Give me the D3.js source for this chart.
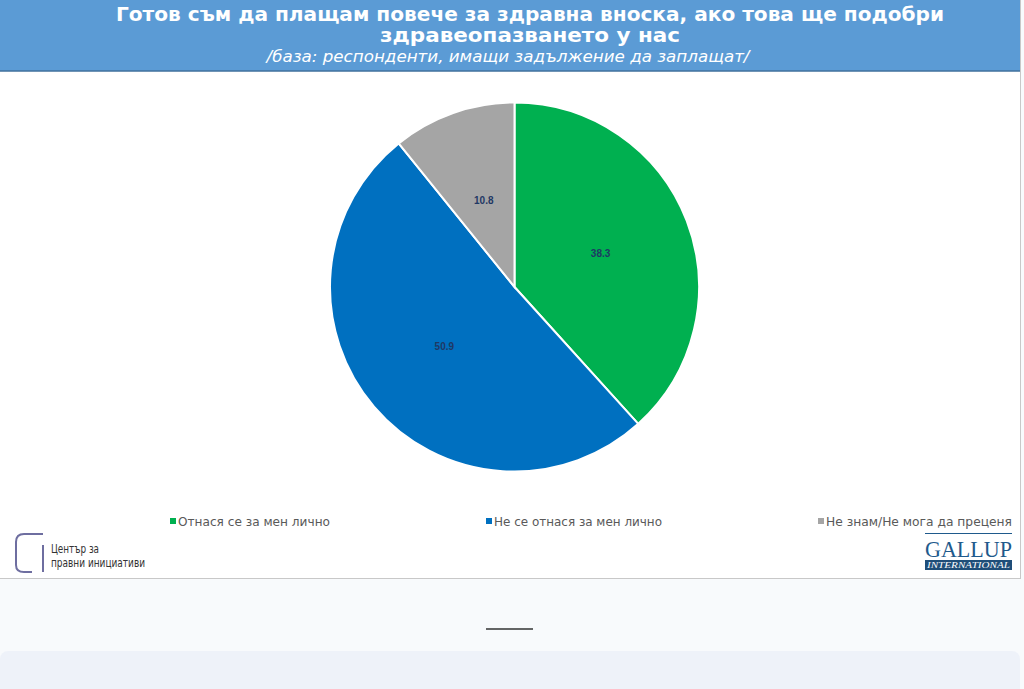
<!DOCTYPE html>
<html><head><meta charset="utf-8">
<script src="https://cdn.jsdelivr.net/npm/d3@7"></script>
<style>
html,body{margin:0;padding:0;background:#f8fafc;}
svg{display:block;}
</style></head>
<body>
<svg id="c" width="1024" height="689"></svg>
<script>
const categories = ["Отнася се за мен лично", "Не се отнася за мен лично", "Не знам/Не мога да преценя"];
const values = [38.3, 50.9, 10.8];
const colors = ["#00b050", "#0070c0", "#a5a5a5"];
const titleLines = ["Готов съм да плащам повече за здравна вноска, ако това ще подобри", "здравеопазването у нас"];
const subtitle = "/база: респонденти, имащи задължение да заплащат/";

const svg = d3.select("#c");
// page elements
svg.append("rect").attr("x",0).attr("y",0).attr("width",1024).attr("height",689).attr("fill","#f8fafc");
svg.append("rect").attr("x",0).attr("y",651).attr("width",1020).attr("height",60).attr("rx",8).attr("fill","#eef2f9");
svg.append("line").attr("x1",486).attr("x2",533).attr("y1",629).attr("y2",629).attr("stroke","#333").attr("stroke-width",1.6);

// chart image area
svg.append("rect").attr("x",0).attr("y",0).attr("width",1020).attr("height",578).attr("fill","#fff");
svg.append("line").attr("x1",1020.5).attr("x2",1020.5).attr("y1",0).attr("y2",578).attr("stroke","#c8c8c8");
svg.append("line").attr("x1",0).attr("x2",1021).attr("y1",578.5).attr("y2",578.5).attr("stroke","#c8c8c8");

// title band
svg.append("rect").attr("x",0).attr("y",0).attr("width",1020).attr("height",71).attr("fill","#5b9bd5");
svg.append("line").attr("x1",0).attr("x2",1020).attr("y1",71).attr("y2",71).attr("stroke","#41719c").attr("stroke-width",1.5);
const tf = "'Liberation Sans Narrow','DejaVu Sans Condensed',Arial,sans-serif";
svg.append("text").attr("x",530).attr("y",21).attr("text-anchor","middle").attr("fill","#fff")
  .attr("font-family",tf).attr("font-weight","bold").attr("font-size",19)
  .attr("textLength",828).attr("lengthAdjust","spacingAndGlyphs").text(titleLines[0]);
svg.append("text").attr("x",530).attr("y",42).attr("text-anchor","middle").attr("fill","#fff")
  .attr("font-family",tf).attr("font-weight","bold").attr("font-size",19)
  .attr("textLength",300).attr("lengthAdjust","spacingAndGlyphs").text(titleLines[1]);
svg.append("text").attr("x",508).attr("y",62).attr("text-anchor","middle").attr("fill","#fff")
  .attr("font-family",tf).attr("font-style","italic").attr("font-size",15)
  .attr("textLength",483).attr("lengthAdjust","spacingAndGlyphs").text(subtitle);

// pie
const cx = 514.5, cy = 287, r = 184.5;
const pie = d3.pie().sort(null).value(d=>d)(values);
const arc = d3.arc().innerRadius(0).outerRadius(r);
const labelArc = d3.arc().innerRadius(r*0.5).outerRadius(r*0.5);
const g = svg.append("g").attr("transform",`translate(${cx},${cy})`);
g.selectAll("path").data(pie).join("path")
  .attr("d",arc).attr("fill",(d,i)=>colors[i]).attr("stroke","#fff").attr("stroke-width",2);
g.selectAll("text").data(pie).join("text")
  .attr("transform",d=>`translate(${labelArc.centroid(d)})`)
  .attr("text-anchor","middle").attr("dy","0.35em")
  .attr("font-family","Arial,'Liberation Sans',sans-serif").attr("font-weight","bold").attr("font-size",10)
  .attr("fill","#1f3864").text(d=>d.data.toFixed(1));

// legend
const legX = [170, 486, 818];
const legW = [152, 168, 186];
const lg = svg.append("g");
categories.forEach((c,i)=>{
  lg.append("rect").attr("x",legX[i]).attr("y",518).attr("width",6).attr("height",6).attr("fill",colors[i]);
  lg.append("text").attr("x",legX[i]+8).attr("y",526).attr("font-family","'DejaVu Sans Condensed','DejaVu Sans',sans-serif")
    .attr("font-size",11.5).attr("fill","#595959")
    .attr("textLength",legW[i]).attr("lengthAdjust","spacingAndGlyphs").text(c);
});

// left logo
const lgo = svg.append("g");
lgo.append("path").attr("d","M43,534 L24,534 Q16,534 16,542 L16,565 Q16,572 24,572 L32,572")
  .attr("fill","none").attr("stroke","#6e6ea0").attr("stroke-width",2);
lgo.append("line").attr("x1",43).attr("x2",43).attr("y1",545).attr("y2",572).attr("stroke","#6e6ea0").attr("stroke-width",2);
lgo.append("text").attr("x",51).attr("y",553).attr("font-family",tf).attr("font-size",12.5).attr("fill","#333")
  .attr("textLength",48).attr("lengthAdjust","spacingAndGlyphs").text("Център за");
lgo.append("text").attr("x",51).attr("y",567).attr("font-family",tf).attr("font-size",12.5).attr("fill","#333")
  .attr("textLength",94).attr("lengthAdjust","spacingAndGlyphs").text("правни инициативи");

// Gallup logo
const gl = svg.append("g");
gl.append("line").attr("x1",925).attr("x2",1012).attr("y1",533.5).attr("y2",533.5).attr("stroke","#1f5a8c").attr("stroke-width",1);
gl.append("text").attr("x",925).attr("y",557).attr("font-family","'Liberation Serif','Times New Roman',serif")
  .attr("font-size",24).attr("fill","#1f5a8c").attr("textLength",87).attr("lengthAdjust","spacingAndGlyphs").text("GALLUP");
gl.append("rect").attr("x",925).attr("y",560).attr("width",87).attr("height",10).attr("fill","#1f4e79");
gl.append("text").attr("x",927).attr("y",568).attr("font-family","'Liberation Serif','Times New Roman',serif")
  .attr("font-style","italic").attr("font-size",8).attr("fill","#fff")
  .attr("textLength",83).attr("lengthAdjust","spacingAndGlyphs").text("INTERNATIONAL");
</script>
</body></html>
